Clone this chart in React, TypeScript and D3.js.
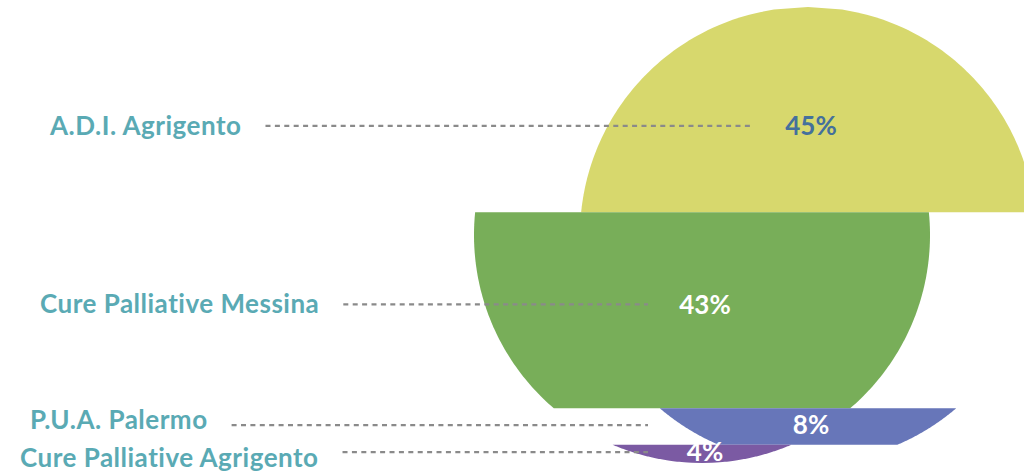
import React, { useEffect, useRef } from 'react';
import * as d3 from 'd3';

// ---- data ----
const categories = ['A.D.I. Agrigento', 'Cure Palliative Messina', 'P.U.A. Palermo', 'Cure Palliative Agrigento'];
const values = [45, 43, 8, 4];
const valueLabels = ['45%', '43%', '8%', '4%'];

// ---- styles / layout ----
const colors = ['#d7d86d', '#78ae59', '#6776b9', '#7b5aa3'];
const valueColors = ['#44709c', '#ffffff', '#ffffff', '#ffffff'];
const catColor = '#5aaab4';
const W = 1024, H = 472;
const R = 228, CX = 755, CY = 235, SHIFT = 53;
const FONT = 'Lato, "Open Sans", sans-serif';
const MIN_GAP = 38;

export default function App() {
  const ref = useRef<SVGSVGElement>(null);

  useEffect(() => {
    const svg = d3.select(ref.current);
    svg.selectAll('*').remove();

    const total = d3.sum(values);
    const y = d3.scaleLinear().domain([0, total]).range([CY - R, CY + R]);
    const cum = Array.from(d3.cumsum(values));
    const halfW = (yy: number) => Math.sqrt(Math.max(0, R * R - (yy - CY) ** 2));

    const bands = values.map((v, i) => {
      const y0 = y(cum[i] - v), y1 = y(cum[i]);
      const cx = CX + (i % 2 === 0 ? SHIFT : -SHIFT);
      const n = 80;
      const ys = d3.range(n + 1).map(k => y0 + ((y1 - y0) * k) / n);
      const pts: [number, number][] = ys.map(yy => [cx + halfW(yy), yy] as [number, number])
        .concat(ys.slice().reverse().map(yy => [cx - halfW(yy), yy] as [number, number]));
      const c = d3.polygonCentroid(pts);
      return { i, v, y0, y1, cx, pts, c };
    });

    // category label centres: start at leader line, then push apart to avoid overlap
    const labelY = bands.map(b => b.c[1]);
    for (let it = 0; it < 20; it++) {
      for (let k = 1; k < labelY.length; k++) {
        const d = labelY[k] - labelY[k - 1];
        if (d < MIN_GAP) {
          const push = (MIN_GAP - d) / 2;
          labelY[k - 1] -= push;
          labelY[k] += push;
        }
      }
    }

    const line = d3.line<[number, number]>().x(d => d[0]).y(d => d[1]);

    svg.append('g').selectAll('path').data(bands).join('path')
      .attr('d', d => line(d.pts) + 'Z')
      .attr('fill', d => colors[d.i]);

    const minSmallCx = d3.min(bands.filter(b => b.v < 10), b => b.cx) as number;

    // category labels
    const cats = svg.append('g').selectAll('text').data(bands).join('text')
      .attr('x', d => 50 - 10 * d.i)
      .attr('y', d => labelY[d.i] + 9)
      .attr('fill', catColor)
      .attr('font-family', FONT)
      .attr('font-weight', 700)
      .attr('font-size', 26)
      .attr('letter-spacing', 0.5)
      .text(d => categories[d.i]);

    const widths: number[] = [];
    cats.each(function () { widths.push((this as SVGTextElement).getComputedTextLength()); });

    // leader lines
    svg.append('g').selectAll('line').data(bands).join('line')
      .attr('x1', d => 50 - 10 * d.i + widths[d.i] + 24)
      .attr('x2', d => (d.v < 10 ? minSmallCx : d.cx) - 54)
      .attr('y1', d => d.c[1])
      .attr('y2', d => d.c[1])
      .attr('stroke', '#8a8a8a')
      .attr('stroke-width', 2.2)
      .attr('stroke-dasharray', '5,4.4');

    // value labels
    svg.append('g').selectAll('text').data(bands).join('text')
      .attr('x', d => d.cx + 3)
      .attr('y', d => d.c[1])
      .attr('dy', '0.36em')
      .attr('text-anchor', 'middle')
      .attr('fill', d => valueColors[d.i])
      .attr('font-family', FONT)
      .attr('font-weight', 700)
      .attr('font-size', 26)
      .text(d => valueLabels[d.i]);
  }, []);

  return (
    <svg ref={ref} width={W} height={H} style={{ position: 'absolute', left: 0, top: 0, background: '#ffffff' }} />
  );
}
